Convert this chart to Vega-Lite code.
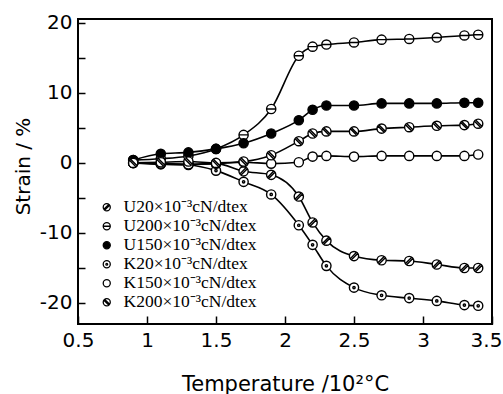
{
  "$schema": "https://vega.github.io/schema/vega-lite/v6.json",
  "width": 414,
  "height": 305,
  "autosize": "none",
  "padding": {"left": 78, "top": 19, "right": 11, "bottom": 70},
  "background": "white",
  "datasets": {
    "curves": [
      {"s": "U20×10⁻³cN/dtex", "t": 0.9, "v": 0}, {"s": "U20×10⁻³cN/dtex", "t": 1.1, "v": -0.1}, {"s": "U20×10⁻³cN/dtex", "t": 1.3, "v": -0.2}, {"s": "U20×10⁻³cN/dtex", "t": 1.5, "v": -0.1}, {"s": "U20×10⁻³cN/dtex", "t": 1.7, "v": -1.2}, {"s": "U20×10⁻³cN/dtex", "t": 1.9, "v": -1.7}, {"s": "U20×10⁻³cN/dtex", "t": 2.1, "v": -4.8}, {"s": "U20×10⁻³cN/dtex", "t": 2.2, "v": -8.5}, {"s": "U20×10⁻³cN/dtex", "t": 2.3, "v": -11.1}, {"s": "U20×10⁻³cN/dtex", "t": 2.5, "v": -13.3}, {"s": "U20×10⁻³cN/dtex", "t": 2.7, "v": -13.9}, {"s": "U20×10⁻³cN/dtex", "t": 2.9, "v": -14.0}, {"s": "U20×10⁻³cN/dtex", "t": 3.1, "v": -14.5}, {"s": "U20×10⁻³cN/dtex", "t": 3.3, "v": -15.0}, {"s": "U20×10⁻³cN/dtex", "t": 3.4, "v": -15.0},
      {"s": "U200×10⁻³cN/dtex", "t": 0.9, "v": 0.4}, {"s": "U200×10⁻³cN/dtex", "t": 1.1, "v": 0.6}, {"s": "U200×10⁻³cN/dtex", "t": 1.3, "v": 1.0}, {"s": "U200×10⁻³cN/dtex", "t": 1.5, "v": 2.0}, {"s": "U200×10⁻³cN/dtex", "t": 1.7, "v": 4.0}, {"s": "U200×10⁻³cN/dtex", "t": 1.9, "v": 7.7}, {"s": "U200×10⁻³cN/dtex", "t": 2.1, "v": 15.3}, {"s": "U200×10⁻³cN/dtex", "t": 2.2, "v": 16.6}, {"s": "U200×10⁻³cN/dtex", "t": 2.3, "v": 16.9}, {"s": "U200×10⁻³cN/dtex", "t": 2.5, "v": 17.2}, {"s": "U200×10⁻³cN/dtex", "t": 2.7, "v": 17.6}, {"s": "U200×10⁻³cN/dtex", "t": 2.9, "v": 17.7}, {"s": "U200×10⁻³cN/dtex", "t": 3.1, "v": 17.9}, {"s": "U200×10⁻³cN/dtex", "t": 3.3, "v": 18.2}, {"s": "U200×10⁻³cN/dtex", "t": 3.4, "v": 18.3},
      {"s": "U150×10⁻³cN/dtex", "t": 0.9, "v": 0.4}, {"s": "U150×10⁻³cN/dtex", "t": 1.1, "v": 1.3}, {"s": "U150×10⁻³cN/dtex", "t": 1.3, "v": 1.5}, {"s": "U150×10⁻³cN/dtex", "t": 1.5, "v": 2.0}, {"s": "U150×10⁻³cN/dtex", "t": 1.7, "v": 2.8}, {"s": "U150×10⁻³cN/dtex", "t": 1.9, "v": 4.2}, {"s": "U150×10⁻³cN/dtex", "t": 2.1, "v": 6.1}, {"s": "U150×10⁻³cN/dtex", "t": 2.2, "v": 7.6}, {"s": "U150×10⁻³cN/dtex", "t": 2.3, "v": 8.2}, {"s": "U150×10⁻³cN/dtex", "t": 2.5, "v": 8.2}, {"s": "U150×10⁻³cN/dtex", "t": 2.7, "v": 8.5}, {"s": "U150×10⁻³cN/dtex", "t": 2.9, "v": 8.5}, {"s": "U150×10⁻³cN/dtex", "t": 3.1, "v": 8.5}, {"s": "U150×10⁻³cN/dtex", "t": 3.3, "v": 8.6}, {"s": "U150×10⁻³cN/dtex", "t": 3.4, "v": 8.6},
      {"s": "K20×10⁻³cN/dtex", "t": 0.9, "v": 0}, {"s": "K20×10⁻³cN/dtex", "t": 1.1, "v": -0.2}, {"s": "K20×10⁻³cN/dtex", "t": 1.3, "v": -0.3}, {"s": "K20×10⁻³cN/dtex", "t": 1.5, "v": -1.1}, {"s": "K20×10⁻³cN/dtex", "t": 1.7, "v": -2.7}, {"s": "K20×10⁻³cN/dtex", "t": 1.9, "v": -4.5}, {"s": "K20×10⁻³cN/dtex", "t": 2.1, "v": -8.9}, {"s": "K20×10⁻³cN/dtex", "t": 2.2, "v": -11.7}, {"s": "K20×10⁻³cN/dtex", "t": 2.3, "v": -14.7}, {"s": "K20×10⁻³cN/dtex", "t": 2.5, "v": -17.8}, {"s": "K20×10⁻³cN/dtex", "t": 2.7, "v": -18.9}, {"s": "K20×10⁻³cN/dtex", "t": 2.9, "v": -19.3}, {"s": "K20×10⁻³cN/dtex", "t": 3.1, "v": -19.7}, {"s": "K20×10⁻³cN/dtex", "t": 3.3, "v": -20.3}, {"s": "K20×10⁻³cN/dtex", "t": 3.4, "v": -20.4},
      {"s": "K150×10⁻³cN/dtex", "t": 0.9, "v": 0}, {"s": "K150×10⁻³cN/dtex", "t": 1.1, "v": -0.1}, {"s": "K150×10⁻³cN/dtex", "t": 1.3, "v": -0.2}, {"s": "K150×10⁻³cN/dtex", "t": 1.5, "v": -0.1}, {"s": "K150×10⁻³cN/dtex", "t": 1.7, "v": 0.1}, {"s": "K150×10⁻³cN/dtex", "t": 1.9, "v": -0.1}, {"s": "K150×10⁻³cN/dtex", "t": 2.1, "v": 0.1}, {"s": "K150×10⁻³cN/dtex", "t": 2.2, "v": 0.9}, {"s": "K150×10⁻³cN/dtex", "t": 2.3, "v": 1.0}, {"s": "K150×10⁻³cN/dtex", "t": 2.5, "v": 0.9}, {"s": "K150×10⁻³cN/dtex", "t": 2.7, "v": 1.0}, {"s": "K150×10⁻³cN/dtex", "t": 2.9, "v": 1.0}, {"s": "K150×10⁻³cN/dtex", "t": 3.1, "v": 1.0}, {"s": "K150×10⁻³cN/dtex", "t": 3.3, "v": 1.0}, {"s": "K150×10⁻³cN/dtex", "t": 3.4, "v": 1.2},
      {"s": "K200×10⁻³cN/dtex", "t": 0.9, "v": 0}, {"s": "K200×10⁻³cN/dtex", "t": 1.1, "v": 0.1}, {"s": "K200×10⁻³cN/dtex", "t": 1.3, "v": 0.2}, {"s": "K200×10⁻³cN/dtex", "t": 1.5, "v": 0}, {"s": "K200×10⁻³cN/dtex", "t": 1.7, "v": 0.2}, {"s": "K200×10⁻³cN/dtex", "t": 1.9, "v": 1.1}, {"s": "K200×10⁻³cN/dtex", "t": 2.1, "v": 3.1}, {"s": "K200×10⁻³cN/dtex", "t": 2.2, "v": 4.2}, {"s": "K200×10⁻³cN/dtex", "t": 2.3, "v": 4.5}, {"s": "K200×10⁻³cN/dtex", "t": 2.5, "v": 4.5}, {"s": "K200×10⁻³cN/dtex", "t": 2.7, "v": 4.9}, {"s": "K200×10⁻³cN/dtex", "t": 2.9, "v": 5.1}, {"s": "K200×10⁻³cN/dtex", "t": 3.1, "v": 5.3}, {"s": "K200×10⁻³cN/dtex", "t": 3.3, "v": 5.4}, {"s": "K200×10⁻³cN/dtex", "t": 3.4, "v": 5.6}
    ]
  },
  "data": {"name": "curves"},
  "encoding": {
    "x": {
      "field": "t", "type": "quantitative",
      "scale": {"domain": [0.5, 3.5], "nice": false, "zero": false},
      "axis": {
        "values": [0.5, 1, 1.5, 2, 2.5, 3, 3.5],
        "labelExpr": "'' + datum.value",
        "labelOffset": {"condition": {"test": "datum.value == 3.5", "value": -6}, "value": 0},
        "tickSize": -8, "labelPadding": 14,
        "title": "Temperature /10²°C",
        "titleFontSize": 21,
        "titleBaseline": "alphabetic", "titleY": 66
      }
    },
    "y": {
      "field": "v", "type": "quantitative",
      "scale": {"domain": [-23, 20.55], "nice": false, "zero": false},
      "axis": {
        "values": [-20, -15, -10, -5, 0, 5, 10, 15, 20],
        "labelExpr": "datum.value % 10 === 0 ? '' + datum.value : ''",
        "tickSize": -7, "labelPadding": 13,
        "title": "Strain / %",
        "titleBaseline": "alphabetic", "titleX": -49, "titleY": 147
      }
    }
  },
  "layer": [
    {
      "mark": {"type": "line", "interpolate": "monotone", "color": "black", "strokeWidth": 1.6},
      "encoding": {"detail": {"field": "s"}}
    },
    {
      "mark": {"type": "point", "filled": true, "strokeWidth": 1.4, "size": 85, "opacity": 1},
      "encoding": {
        "shape": {
          "field": "s", "type": "nominal",
          "scale": {
            "domain": ["U20×10⁻³cN/dtex", "U200×10⁻³cN/dtex", "U150×10⁻³cN/dtex", "K20×10⁻³cN/dtex", "K150×10⁻³cN/dtex", "K200×10⁻³cN/dtex"],
            "range": [
              "M-1,0A1,1,0,1,1,1,0A1,1,0,1,1,-1,0ZM-0.75,0.5L0.5,-0.75M-0.5,0.75L0.75,-0.5",
              "M-1,0A1,1,0,1,1,1,0A1,1,0,1,1,-1,0ZM-1,0L1,0",
              "M-1,0A1,1,0,1,1,1,0A1,1,0,1,1,-1,0Z",
              "M-1,0A1,1,0,1,1,1,0A1,1,0,1,1,-1,0ZM-0.25,0A0.25,0.25,0,1,1,0.25,0A0.25,0.25,0,1,1,-0.25,0Z",
              "M-1,0A1,1,0,1,1,1,0A1,1,0,1,1,-1,0Z",
              "M-1,0A1,1,0,1,1,1,0A1,1,0,1,1,-1,0ZM-0.75,-0.5L0.5,0.75M-0.5,-0.75L0.75,0.5"
            ]
          },
          "legend": {"title": null}
        },
        "fill": {
          "field": "s", "type": "nominal",
          "scale": {
            "domain": ["U20×10⁻³cN/dtex", "U200×10⁻³cN/dtex", "U150×10⁻³cN/dtex", "K20×10⁻³cN/dtex", "K150×10⁻³cN/dtex", "K200×10⁻³cN/dtex"],
            "range": ["white", "white", "black", "white", "white", "white"]
          },
          "legend": {"title": null}
        },
        "stroke": {
          "field": "s", "type": "nominal",
          "scale": {
            "domain": ["U20×10⁻³cN/dtex", "U200×10⁻³cN/dtex", "U150×10⁻³cN/dtex", "K20×10⁻³cN/dtex", "K150×10⁻³cN/dtex", "K200×10⁻³cN/dtex"],
            "range": ["black", "black", "black", "black", "black", "black"]
          },
          "legend": {"title": null}
        }
      }
    }
  ],
  "config": {
    "font": "DejaVu Sans",
    "view": {"stroke": "black", "strokeWidth": 2},
    "axis": {
      "domain": false, "grid": false,
      "tickColor": "black", "tickWidth": 1.5,
      "labelColor": "black", "labelFontSize": 20, "labelFont": "DejaVu Sans",
      "labelFlush": false, "labelOverlap": false,
      "titleColor": "black", "titleFontSize": 20, "titleFontWeight": "normal", "titleFont": "DejaVu Sans"
    },
    "legend": {
      "orient": "none", "legendX": 20, "legendY": 179.5,
      "labelFont": "Liberation Serif", "labelFontSize": 17.5, "labelColor": "black",
      "labelOffset": 8, "rowPadding": 0, "labelLimit": 0,
      "symbolSize": 50, "symbolStrokeWidth": 1.3,
      "padding": 0
    }
  }
}
